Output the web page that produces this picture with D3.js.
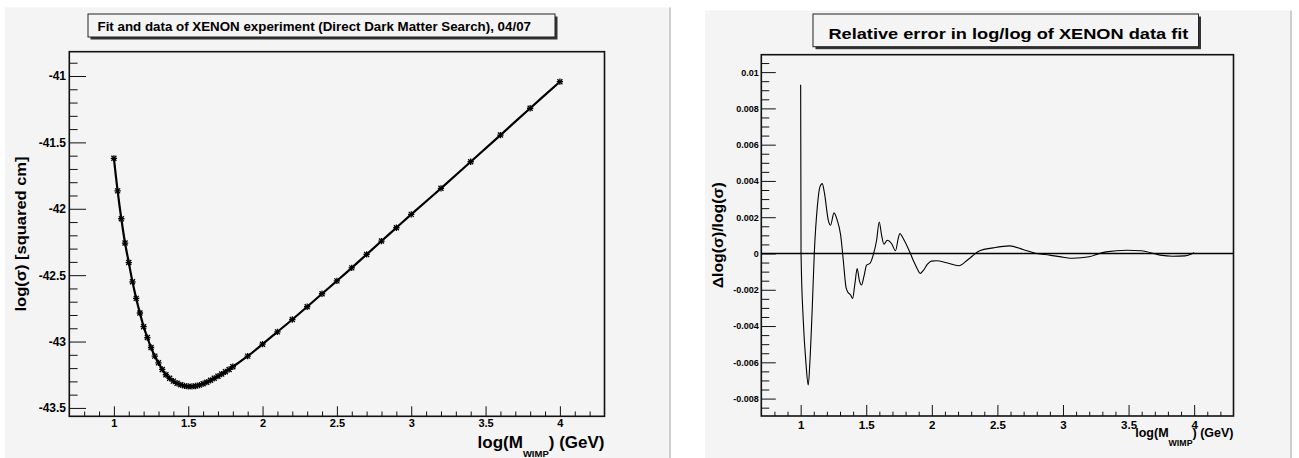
<!DOCTYPE html>
<html>
<head>
<meta charset="utf-8">
<script src="https://cdn.jsdelivr.net/npm/d3@7"></script>
<style>
  body { margin: 0; background: #fff; }
  svg { display: block; font-family: "Liberation Sans", Arial, Helvetica, sans-serif; font-weight: bold; }
</style>
</head>
<body>
<div id="chart"></div>
<script>
// XENON fit: log(M_WIMP) vs log(sigma)
const fitMass = [1.000, 1.025, 1.050, 1.075, 1.100, 1.125, 1.150, 1.175, 1.200, 1.225,
  1.250, 1.275, 1.300, 1.325, 1.350, 1.375, 1.400, 1.425, 1.450, 1.475,
  1.500, 1.525, 1.550, 1.575, 1.600, 1.625, 1.650, 1.675, 1.700, 1.725,
  1.750, 1.775, 1.800, 1.900, 2.000, 2.100, 2.200, 2.300, 2.400, 2.500,
  2.600, 2.700, 2.800, 2.900, 3.000, 3.200, 3.400, 3.600, 3.800, 4.000];
const fitSigma = [-41.620, -41.865, -42.075, -42.258, -42.405, -42.550, -42.675, -42.785, -42.888, -42.970,
  -43.045, -43.110, -43.160, -43.210, -43.250, -43.277, -43.298, -43.314, -43.326, -43.334,
  -43.338, -43.338, -43.335, -43.328, -43.318, -43.306, -43.292, -43.277, -43.261, -43.245,
  -43.228, -43.210, -43.190, -43.110, -43.020, -42.927, -42.834, -42.738, -42.640, -42.543,
  -42.445, -42.344, -42.243, -42.143, -42.042, -41.846, -41.646, -41.445, -41.243, -41.043];

// relative error of the fit
const errMass = [1.000, 1.003, 1.020, 1.041, 1.058, 1.071, 1.089, 1.104, 1.127, 1.147,
  1.165, 1.180, 1.211, 1.228, 1.254, 1.279, 1.305, 1.325, 1.345, 1.358,
  1.381, 1.396, 1.414, 1.431, 1.447, 1.464, 1.482, 1.503, 1.528, 1.553,
  1.579, 1.599, 1.617, 1.635, 1.660, 1.693, 1.723, 1.744, 1.756, 1.782,
  1.820, 1.858, 1.888, 1.911, 1.934, 1.967, 1.997, 2.036, 2.112, 2.206,
  2.277, 2.365, 2.467, 2.594, 2.695, 2.797, 2.898, 3.013, 3.075, 3.200,
  3.328, 3.487, 3.597, 3.740, 3.834, 3.930, 4.000];
const errValue = [0.0093, 0.0000, -0.0037, -0.0061, -0.00725, -0.0059, -0.0029, 0.0000, 0.00257, 0.00367,
  0.00385, 0.0034, 0.00183, 0.00156, 0.00224, 0.00183, 0.00101, -0.00037, -0.00183, -0.00211,
  -0.00229, -0.00248, -0.00165, -0.00083, -0.00147, -0.00174, -0.00128, -0.00064, -0.00055, -0.00009,
  0.00073, 0.00174, 0.00101, 0.00051, 0.00073, 0.00055, 0.00015, 0.00083, 0.0011, 0.00083,
  0.00028, -0.00037, -0.00083, -0.0011, -0.00095, -0.00059, -0.00042, -0.0004, -0.00051, -0.00068,
  -0.00033, 0.00015, 0.00031, 0.00042, 0.00022, 0.0, -0.00009, -0.00022, -0.00026, -0.00018,
  0.00009, 0.00018, 0.00015, -0.00009, -0.00015, -0.00013, 0.00004];

// tick values
const massTicks = [1, 1.5, 2, 2.5, 3, 3.5, 4];
const sigmaTicks = [-43.5, -43, -42.5, -42, -41.5, -41];
const errTicks = [-0.008, -0.006, -0.004, -0.002, 0, 0.002, 0.004, 0.006, 0.008, 0.01];

const leftTitle = "Fit and data of XENON experiment (Direct Dark Matter Search), 04/07";
const rightTitle = "Relative error in log/log of XENON data fit";

function pageLoad() {

  const padColor = "#f4f4f4";

  const svg = d3.select("#chart")
    .append("svg")
      .attr("width", 1299)
      .attr("height", 458);

  // pads
  svg.append("rect").attr("x", 5).attr("y", 7.5).attr("width", 664).attr("height", 451).attr("fill", padColor);
  svg.append("line").attr("x1", 670).attr("x2", 670).attr("y1", 7.5).attr("y2", 458)
    .attr("stroke", "#bdbdbd").attr("stroke-width", 1.5);
  svg.append("rect").attr("x", 705).attr("y", 10.5).attr("width", 585).attr("height", 448).attr("fill", padColor);
  svg.append("line").attr("x1", 1291).attr("x2", 1291).attr("y1", 10.5).attr("y2", 458)
    .attr("stroke", "#bdbdbd").attr("stroke-width", 1.5);

  // title boxes with a drop shadow
  function titleBox(x, y, w, h, text, tx, ty, size, len) {
    svg.append("rect").attr("x", x + 2.5).attr("y", y + 2.5).attr("width", w).attr("height", h).attr("fill", "#333");
    svg.append("rect").attr("x", x).attr("y", y).attr("width", w).attr("height", h)
      .attr("fill", padColor).attr("stroke", "#222").attr("stroke-width", 1);
    svg.append("text").attr("x", tx).attr("y", ty)
      .attr("font-size", size)
      .attr("textLength", len).attr("lengthAdjust", "spacingAndGlyphs")
      .text(text);
  }
  titleBox(88, 14, 467, 23, leftTitle, 97.5, 31, 13, 433.5);
  titleBox(813, 14, 385.5, 32.7, rightTitle, 828.4, 38.5, 14.5, 360);

  // axes with ROOT style inward ticks
  function drawAxes(frame, x, y, o) {
    const g = svg.append("g");

    const xMajor = g.append("g")
      .attr("transform", "translate(0," + frame.bottom + ")")
      .call(d3.axisBottom(x).tickValues(massTicks).tickSize(-o.xMajorLen).tickPadding(o.xPad)
        .tickFormat(d => String(d)));
    xMajor.select(".domain").remove();
    xMajor.attr("font-family", null).attr("font-size", o.xFont);

    const xMinor = g.append("g")
      .attr("transform", "translate(0," + frame.bottom + ")")
      .call(d3.axisBottom(x).tickValues(o.xMinor).tickSize(-o.xMinorLen).tickFormat(""));
    xMinor.select(".domain").remove();

    const yMajor = g.append("g")
      .attr("transform", "translate(" + frame.left + ",0)")
      .call(d3.axisLeft(y).tickValues(o.yTicks).tickSize(-o.yMajorLen).tickPadding(o.yPad)
        .tickFormat(d => String(d)));
    yMajor.select(".domain").remove();
    yMajor.attr("font-family", null).attr("font-size", o.yFont);

    const yMinor = g.append("g")
      .attr("transform", "translate(" + frame.left + ",0)")
      .call(d3.axisLeft(y).tickValues(o.yMinor).tickSize(-o.yMinorLen).tickFormat(""));
    yMinor.select(".domain").remove();

    g.selectAll(".tick line").attr("stroke", "#111");

    // frame
    g.append("rect")
      .attr("x", frame.left).attr("y", frame.top)
      .attr("width", frame.right - frame.left).attr("height", frame.bottom - frame.top)
      .attr("fill", "none").attr("stroke", "#111").attr("stroke-width", 1.6);
  }

  const massMinor = d3.range(8, 43).map(v => v / 10).filter(v => !massTicks.includes(v));

  // ---------- left: fit and data ----------
  const lf = { left: 69.3, right: 604.5, top: 51.7, bottom: 416.3 };
  const x1 = d3.scaleLinear().domain([0.7, 4.3]).range([lf.left, lf.right]);
  const y1 = d3.scaleLinear().domain([-43.563, -40.817]).range([lf.bottom, lf.top]);

  drawAxes(lf, x1, y1, {
    xMajorLen: 10, xMinorLen: 4.8, xPad: 3.2, xFont: 11,
    yTicks: sigmaTicks,
    yMinor: d3.range(-435, -408).map(v => v / 10).filter(v => !sigmaTicks.includes(v)),
    yMajorLen: 16.7, yMinorLen: 8.3, yPad: 3.3, yFont: 12,
    xMinor: massMinor
  });

  const fitData = fitMass.map((m, i) => ({ m: m, s: fitSigma[i] }));

  svg.append("path")
    .datum(fitData)
    .attr("fill", "none")
    .attr("stroke", "#000")
    .attr("stroke-width", 2.2)
    .attr("d", d3.line()
      .curve(d3.curveCatmullRom)
      .x(d => x1(d.m))
      .y(d => y1(d.s)));

  // star markers (plus + times)
  const plus = d3.symbol().type(d3.symbolPlus).size(15);
  const times = d3.symbol().type(d3.symbolTimes).size(18);
  const markers = svg.append("g").attr("stroke", "#000").attr("stroke-width", 1.3).attr("fill", "none");
  markers.selectAll(".mp").data(fitData).join("path")
    .attr("class", "mp")
    .attr("transform", d => "translate(" + x1(d.m) + "," + y1(d.s) + ")")
    .attr("d", plus());
  markers.selectAll(".mt").data(fitData).join("path")
    .attr("class", "mt")
    .attr("transform", d => "translate(" + x1(d.m) + "," + y1(d.s) + ")")
    .attr("d", times());

  // axis titles
  svg.append("text")
    .attr("transform", "translate(26," + ((lf.top + lf.bottom) / 2) + ") rotate(-90)")
    .attr("text-anchor", "middle")
    .attr("font-size", 15)
    .attr("textLength", 155).attr("lengthAdjust", "spacingAndGlyphs")
    .text("log(σ) [squared cm]");

  const xt1 = svg.append("text")
    .attr("x", lf.right).attr("y", 448.3)
    .attr("text-anchor", "end")
    .attr("font-size", 17);
  xt1.append("tspan").text("log(M");
  xt1.append("tspan").attr("font-size", 9.5).attr("dy", 8.5).text("WIMP");
  xt1.append("tspan").attr("dy", -8.5).text(") (GeV)");

  // ---------- right: relative error ----------
  const rf = { left: 761.3, right: 1233.5, top: 54.7, bottom: 416 };
  const x2 = d3.scaleLinear().domain([0.7, 4.3]).range([rf.left, rf.right]);
  const y2 = d3.scaleLinear().domain([-0.00896, 0.01096]).range([rf.bottom, rf.top]);

  drawAxes(rf, x2, y2, {
    xMajorLen: 11, xMinorLen: 4.3, xPad: 4.8, xFont: 11.5,
    yTicks: errTicks,
    yMinor: d3.range(-17, 22).map(v => v / 2000).filter(v => !errTicks.some(t => Math.abs(t - v) < 1e-9)),
    yMajorLen: 14.5, yMinorLen: 8, yPad: 2.5, yFont: 9,
    xMinor: massMinor
  });

  // zero line
  svg.append("line")
    .attr("x1", rf.left).attr("x2", rf.right)
    .attr("y1", y2(0)).attr("y2", y2(0))
    .attr("stroke", "#000").attr("stroke-width", 1.4);

  const errData = errMass.map((m, i) => ({ m: m, e: errValue[i] }));

  svg.append("path")
    .datum(errData)
    .attr("fill", "none")
    .attr("stroke", "#000")
    .attr("stroke-width", 1.1)
    .attr("d", d3.line()
      .curve(d3.curveMonotoneX)
      .x(d => x2(d.m))
      .y(d => y2(d.e)));

  svg.append("text")
    .attr("transform", "translate(723," + ((rf.top + rf.bottom) / 2) + ") rotate(-90)")
    .attr("text-anchor", "middle")
    .attr("font-size", 14)
    .attr("textLength", 106).attr("lengthAdjust", "spacingAndGlyphs")
    .text("Δlog(σ)/log(σ)");

  const xt2 = svg.append("text")
    .attr("x", rf.right).attr("y", 437)
    .attr("text-anchor", "end")
    .attr("font-size", 12.5);
  xt2.append("tspan").text("log(M");
  xt2.append("tspan").attr("font-size", 8.8).attr("dy", 9).text("WIMP");
  xt2.append("tspan").attr("dy", -9).text(") (GeV)");
}

window.addEventListener("load", pageLoad);
</script>
</body>
</html>
